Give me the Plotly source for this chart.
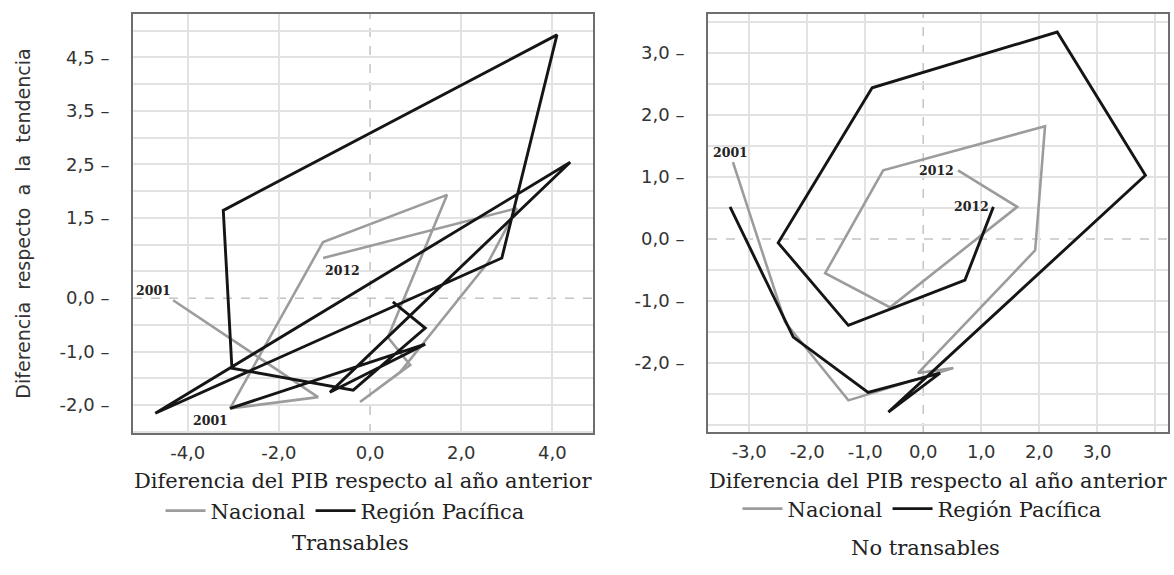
import plotly.graph_objects as go

# Transables: cycle of GDP change vs. deviation from trend, 2001-2012
trans_nac_x = [-4.32, -1.14, -3.07, -1.03, 1.69, 0.39, 0.88, -0.22, 0.66, 2.59, 3.22, -1.03]
trans_nac_y = [-0.04, -1.85, -2.06, 1.05, 1.93, -0.73, -1.25, -1.94, -1.38, 0.67, 1.68, 0.75]
trans_pac_x = [-3.07, 1.21, -0.88, 4.39, -4.71, 2.89, 4.10, -3.22, -3.03, -0.37, 1.21, 0.50]
trans_pac_y = [-2.06, -0.86, -1.76, 2.54, -2.15, 0.75, 4.92, 1.64, -1.31, -1.72, -0.56, -0.07]

# No transables
notr_nac_x = [-3.28, -2.38, -1.29, 0.52, -0.09, 1.93, 2.10, -0.69, -1.69, -0.57, 1.62, 0.60]
notr_nac_y = [1.24, -1.34, -2.60, -2.08, -2.16, -0.18, 1.82, 1.11, -0.55, -1.10, 0.52, 1.11]
notr_pac_x = [-3.33, -2.24, -0.95, 0.29, -0.60, 3.83, 2.31, -0.88, -2.50, -1.29, 0.72, 1.21]
notr_pac_y = [0.52, -1.58, -2.47, -2.16, -2.79, 1.03, 3.34, 2.44, -0.06, -1.39, -0.66, 0.52]

# Tick labels
trans_xticks = [-4, -2, 0, 2, 4]
trans_xtext = ["-4,0", "-2,0", "0,0", "2,0", "4,0"]
trans_yticks = [4.5, 3.5, 2.5, 1.5, 0, -1, -2]
trans_ytext = ["4,5 –", "3,5 –", "2,5 –", "1,5 –", "0,0 –", "-1,0 –", "-2,0 –"]
notr_xticks = [-3, -2, -1, 0, 1, 2, 3]
notr_xtext = ["-3,0", "-2,0", "-1,0", "0,0", "1,0", "2,0", "3,0"]
notr_yticks = [3, 2, 1, 0, -1, -2]
notr_ytext = ["3,0 –", "2,0 –", "1,0 –", "0,0 –", "-1,0 –", "-2,0 –"]

GRAY = "#9c9c9c"
BLACK = "#151515"
GRID = "#e2e2e2"
FRAME = "#6e6e6e"
SANS = "DejaVu Sans"
SERIF = "DejaVu Serif"
TXT = "#222"

fig = go.Figure()

def add_series(x, y, xa, ya, name, color, width, legend):
    fig.add_trace(go.Scatter(
        x=x, y=y, mode="lines", name=name, xaxis=xa, yaxis=ya,
        line=dict(color=color, width=width), legend=legend,
    ))

add_series(trans_nac_x, trans_nac_y, "x", "y", "Nacional", GRAY, 2.6, "legend")
add_series(trans_pac_x, trans_pac_y, "x", "y", "Región Pacífica", BLACK, 2.9, "legend")
add_series(notr_nac_x, notr_nac_y, "x2", "y2", "Nacional", GRAY, 2.6, "legend2")
add_series(notr_pac_x, notr_pac_y, "x2", "y2", "Región Pacífica", BLACK, 2.9, "legend2")

W, H = 1174, 575

def xdom(l, r):
    return [l / W, r / W]

def ydom(t, b):
    return [1 - b / H, 1 - t / H]

def grid_vals(lo, hi, step):
    vals = []
    v = lo
    while v <= hi + 1e-9:
        if abs(v) > 1e-9:
            vals.append(round(v, 3))
        v += step
    return vals

axis_common = dict(
    showline=True, mirror=True, linecolor=FRAME, linewidth=2,
    showgrid=False, zeroline=False, ticks="",
    tickfont=dict(family=SANS, size=18, color="#333"),
)
xtitle_font = dict(family=SERIF, size=21, color=TXT)

fig.update_layout(
    width=W, height=H, margin=dict(l=0, r=0, t=0, b=0),
    paper_bgcolor="white", plot_bgcolor="white",
    xaxis=dict(
        domain=xdom(133, 593), range=[-5.2, 4.89], anchor="y",
        tickvals=trans_xticks, ticktext=trans_xtext, ticklabelstandoff=2,
        minor=dict(tickvals=grid_vals(-4, 4, 2), showgrid=True, gridcolor=GRID, gridwidth=1.5),
        **axis_common,
    ),
    yaxis=dict(
        domain=ydom(14, 433), range=[-2.52, 5.31], anchor="x",
        tickvals=trans_yticks, ticktext=trans_ytext, ticklabelstandoff=18,
        minor=dict(tickvals=grid_vals(-2.5, 5.0, 0.5), showgrid=True, gridcolor=GRID, gridwidth=1.5),
        title=dict(text="Diferencia  respecto  a  la  tendencia",
                   font=dict(family=SANS, size=19, color="#333"), standoff=24),
        **axis_common,
    ),
    xaxis2=dict(
        domain=xdom(708, 1168), range=[-3.71, 4.22], anchor="y2",
        tickvals=notr_xticks, ticktext=notr_xtext, ticklabelstandoff=2,
        minor=dict(tickvals=grid_vals(-3, 4, 1), showgrid=True, gridcolor=GRID, gridwidth=1.5),
        **axis_common,
    ),
    yaxis2=dict(
        domain=ydom(14, 432), range=[-3.11, 3.63], anchor="x2",
        tickvals=notr_yticks, ticktext=notr_ytext, ticklabelstandoff=18,
        minor=dict(tickvals=grid_vals(-3.0, 3.5, 0.5), showgrid=True, gridcolor=GRID, gridwidth=1.5),
        **axis_common,
    ),
    legend=dict(
        orientation="h", x=345 / W, xanchor="center", y=1 - 511 / H, yanchor="middle",
        font=dict(family=SERIF, size=21, color=TXT), bgcolor="rgba(0,0,0,0)",
        itemwidth=40, tracegroupgap=0,
    ),
    legend2=dict(
        orientation="h", x=922 / W, xanchor="center", y=1 - 509 / H, yanchor="middle",
        font=dict(family=SERIF, size=21, color=TXT), bgcolor="rgba(0,0,0,0)",
        itemwidth=40, tracegroupgap=0,
    ),
    showlegend=True,
)

# dashed reference lines at zero
for xa, ya in (("x", "y"), ("x2", "y2")):
    fig.add_shape(type="line", xref=xa, yref=f"{ya} domain", x0=0, x1=0, y0=0, y1=1,
                  line=dict(color="#c4c4c4", width=1.5, dash="dash"), layer="below")
    fig.add_shape(type="line", xref=f"{xa} domain", yref=ya, x0=0, x1=1, y0=0, y1=0,
                  line=dict(color="#c4c4c4", width=1.5, dash="dash"), layer="below")

# year markers at the ends of each path
year_font = dict(family=SERIF, size=12.5, color=TXT, weight="bold")
labels = [
    ("x", "y", trans_nac_x[0], trans_nac_y[0], "2001", "right", "bottom", 0, 0),
    ("x", "y", trans_pac_x[0], trans_pac_y[0], "2001", "right", "top", 0, -3),
    ("x", "y", trans_nac_x[-1], trans_nac_y[-1], "2012", "left", "top", 0, -3),
    ("x2", "y2", notr_nac_x[0], notr_nac_y[0], "2001", "center", "bottom", -2, 0),
    ("x2", "y2", notr_nac_x[-1], notr_nac_y[-1], "2012", "right", "middle", -2, 0),
    ("x2", "y2", notr_pac_x[-1], notr_pac_y[-1], "2012", "right", "middle", -2, 0),
]
for xa, ya, x, y, t, xan, yan, dx, dy in labels:
    fig.add_annotation(x=x, y=y, xref=xa, yref=ya, text=t, showarrow=False,
                       xanchor=xan, yanchor=yan, xshift=dx, yshift=dy, font=year_font)

# axis titles and panel captions below each panel
below = [
    (363, 481, "Diferencia del PIB respecto al año anterior"),
    (938, 481, "Diferencia del PIB respecto al año anterior"),
    (350, 543, "Transables"),
    (925, 548, "No transables"),
]
for cx, cy, t in below:
    fig.add_annotation(x=cx / W, y=1 - cy / H, xref="paper", yref="paper", text=t,
                       showarrow=False, xanchor="center", yanchor="middle", font=xtitle_font)

fig.write_html("out.html")
